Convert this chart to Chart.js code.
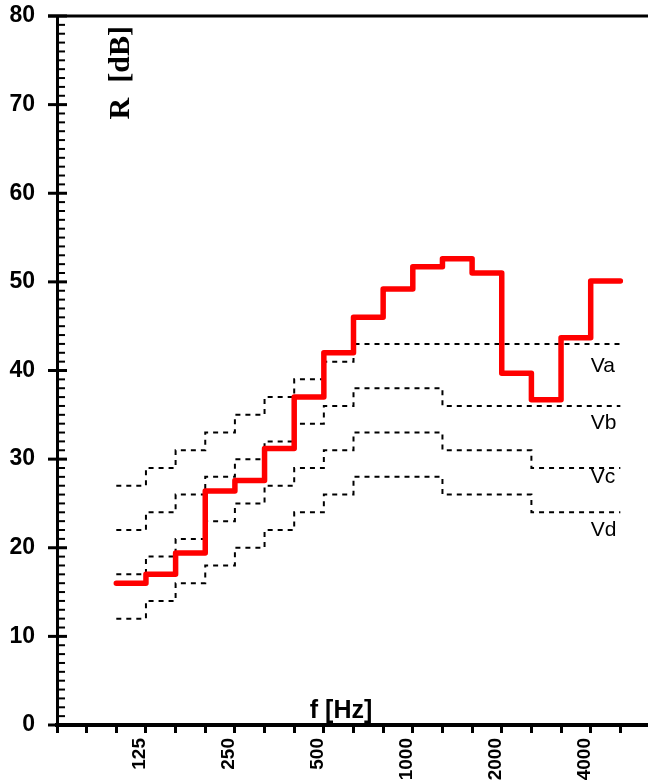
<!DOCTYPE html>
<html>
<head>
<meta charset="utf-8">
<script src="https://cdn.jsdelivr.net/npm/chart.js@4.4.0/dist/chart.umd.min.js"></script>
<style>
  html, body { margin: 0; padding: 0; overflow: hidden; background: #fff; }
  #wrap { width: 650px; height: 783px; }
</style>
</head>
<body>
<div id="wrap"><canvas id="myChart"></canvas></div>
<script>
// axis categories (one-third octave bands) and the labels that are shown
var axisBands = ['63','80','100','125','160','200','250','315','400','500','630','800',
                 '1000','1250','1600','2000','2500','3150','4000','5000','6300'];
var tickLabels = ['125','250','500','1000','2000','4000'];

// measured bands
var bands = ['100','125','160','200','250','315','400','500','630','800',
             '1000','1250','1600','2000','2500','3150','4000'];
var bandEnd = '5000';

// measured sound reduction index R
var rValues = [16.0, 17.0, 19.4, 26.4, 27.6, 31.2, 37.0, 42.0, 46.0, 49.2,
               51.7, 52.6, 51.0, 39.7, 36.7, 43.7, 50.1];

// reference curves
var va = [27, 29, 31, 33, 35, 37, 39, 41, 43, 43, 43, 43, 43, 43, 43, 43, 43];
var vb = [22, 24, 26, 28, 30, 32, 34, 36, 38, 38, 38, 36, 36, 36, 36, 36, 36];
var vc = [17, 19, 21, 23, 25, 27, 29, 31, 33, 33, 33, 31, 31, 31, 29, 29, 29];
var vd = [12, 14, 16, 18, 20, 22, 24, 26, 28, 28, 28, 26, 26, 26, 24, 24, 24];
var curveNames = ['Va', 'Vb', 'Vc', 'Vd'];

// turn a band series into step points (last band runs on to the next band)
function stepPoints(values) {
    var pts = [];
    for (var i = 0; i < bands.length; i++) {
        pts.push({x: bands[i], y: values[i]});
    }
    pts.push({x: bandEnd, y: values[values.length - 1]});
    return pts;
}

function dashed(values) {
    return {
        data: stepPoints(values),
        borderColor: '#000',
        borderWidth: 2,
        borderDash: [5, 5],
        stepped: true,
        pointRadius: 0,
        fill: false
    };
}

function noPadding(scale) {
    scale.paddingTop = 0;
    scale.paddingBottom = 0;
    scale.paddingLeft = 0;
    scale.paddingRight = 0;
}

// y ticks, top line and the texts inside the plot
var decor = {
    id: 'decor',
    afterDraw: function(chart) {
        var ctx = chart.ctx;
        var area = chart.chartArea;
        var x = chart.scales.x, y = chart.scales.y;
        ctx.save();
        ctx.strokeStyle = '#000';
        for (var v = 0; v <= 80; v++) {
            var py = y.getPixelForValue(v);
            ctx.beginPath();
            if (v % 10 === 0) {
                ctx.lineWidth = 3;
                ctx.moveTo(area.left - 9, py);
                ctx.lineTo(area.left + 10, py);
            } else {
                ctx.lineWidth = 2;
                ctx.moveTo(area.left, py);
                ctx.lineTo(area.left + 8, py);
            }
            ctx.stroke();
        }
        // top line
        ctx.lineWidth = 3;
        ctx.beginPath();
        ctx.moveTo(area.left - 9, area.top);
        ctx.lineTo(area.right, area.top);
        ctx.stroke();

        ctx.fillStyle = '#000';
        // R [dB]
        ctx.save();
        ctx.translate(x.getPixelForValue(2.17), y.getPixelForValue(73.6));
        ctx.rotate(-Math.PI / 2);
        ctx.font = 'bold 30px "Liberation Serif"';
        ctx.textAlign = 'center';
        ctx.textBaseline = 'middle';
        ctx.fillText('R  [dB]', 0, 0);
        ctx.restore();

        // f [Hz]
        ctx.font = 'bold 25px "Liberation Sans"';
        ctx.textAlign = 'center';
        ctx.textBaseline = 'alphabetic';
        ctx.fillText('f [Hz]', x.getPixelForValue(9.58), y.getPixelForValue(0.75));

        // curve names
        var nameY = [40.5, 34.0, 28.0, 22.0];
        ctx.font = '21px "Liberation Sans"';
        ctx.textAlign = 'left';
        ctx.textBaseline = 'middle';
        for (var i = 0; i < curveNames.length; i++) {
            ctx.fillText(curveNames[i], x.getPixelForValue(18.0), y.getPixelForValue(nameY[i]));
        }
        ctx.restore();
    }
};

var ctx = document.getElementById('myChart').getContext('2d');
var chart = new Chart(ctx, {
    type: 'line',
    data: {
        labels: axisBands,
        datasets: [
            {
                data: stepPoints(rValues),
                borderColor: '#ff0000',
                borderWidth: 5.5,
                borderCapStyle: 'round',
                borderJoinStyle: 'round',
                stepped: true,
                pointRadius: 0,
                fill: false
            },
            dashed(va),
            dashed(vb),
            dashed(vc),
            dashed(vd)
        ]
    },
    options: {
        responsive: true,
        maintainAspectRatio: false,
        animation: false,
        layout: { padding: { top: 16, left: 0, right: 0, bottom: 0 } },
        plugins: { legend: { display: false }, tooltip: { enabled: false } },
        scales: {
            x: {
                type: 'category',
                offset: false,
                afterFit: function(scale) { scale.height = 58; noPadding(scale); },
                border: { display: true, color: '#000', width: 4 },
                grid: {
                    drawOnChartArea: false,
                    drawTicks: true,
                    tickLength: 8,
                    tickWidth: 3,
                    tickColor: '#000'
                },
                ticks: {
                    autoSkip: false,
                    minRotation: 90,
                    maxRotation: 90,
                    padding: 5,
                    labelOffset: -6,
                    color: '#000',
                    font: { family: '"Liberation Sans"', size: 19, weight: 'bold' },
                    callback: function(value) {
                        var lab = this.getLabelForValue(value);
                        return tickLabels.indexOf(lab) >= 0 ? lab : '';
                    }
                }
            },
            y: {
                min: 0,
                max: 80,
                afterFit: function(scale) { scale.width = 57; noPadding(scale); },
                border: { display: true, color: '#000', width: 3 },
                grid: { display: false, drawTicks: false },
                ticks: {
                    stepSize: 10,
                    padding: 22,
                    color: '#000',
                    font: { family: '"Liberation Sans"', size: 23, weight: 'bold' }
                }
            }
        }
    },
    plugins: [decor]
});
</script>
</body>
</html>
